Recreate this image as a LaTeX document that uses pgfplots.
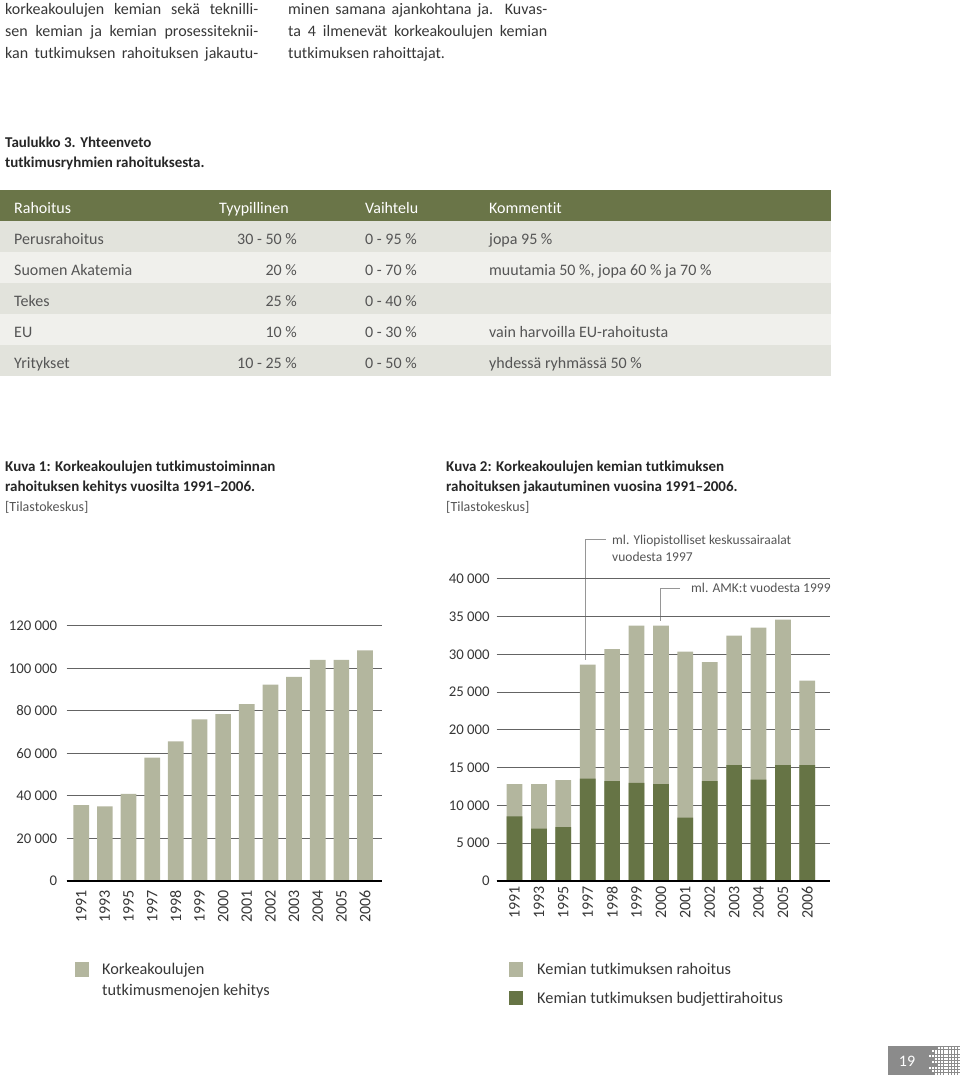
\documentclass[border=0pt]{standalone}
\usepackage{fontspec}
\setmainfont{Carlito}[Ligatures=NoCommon]
\usepackage{pgfplots}
\pgfplotsset{compat=1.18}
\definecolor{olivehead}{RGB}{106,117,72}
\definecolor{darkbar}{RGB}{102,116,69}
\definecolor{lightbar}{RGB}{179,182,158}
\definecolor{rowgrey}{RGB}{226,227,220}
\definecolor{rowlight}{RGB}{240,240,236}
\definecolor{bodytext}{RGB}{55,55,55}
\definecolor{tabtext}{RGB}{85,85,85}
\definecolor{gridgrey}{RGB}{100,100,100}
\definecolor{leader}{RGB}{150,150,150}
\definecolor{pagegrey}{RGB}{139,139,139}
\newcommand{\fs}[1]{\fontsize{#1}{#1}\selectfont}

\pgfplotstableread{
x year total
0 1991 35700
1 1993 35100
2 1995 40900
3 1997 58000
4 1998 65600
5 1999 76000
6 2000 78500
7 2001 83200
8 2002 92300
9 2003 96000
10 2004 103900
11 2005 103900
12 2006 108400
}\tableone

\pgfplotstableread{
x year total budget
0 1991 12830 8560
1 1993 12830 6920
2 1995 13360 7140
3 1997 28620 13540
4 1998 30690 13230
5 1999 33780 12970
6 2000 33780 12830
7 2001 30340 8380
8 2002 28970 13230
9 2003 32460 15350
10 2004 33520 13410
11 2005 34580 15350
12 2006 26500 15350
}\tabletwo

\begin{document}
\begin{tikzpicture}
\begin{scope}[x=1pt,y=1pt]
\path[use as bounding box] (0,0) rectangle (960,-1079);

% ---- body text
\begin{scope}[every node/.style={anchor=base west, inner sep=0pt, font=\fs{16}, text=bodytext}]
\node at (5,-14.5) {\makebox[253pt][s]{korkeakoulujen kemian sekä teknilli-}};
\node at (5,-36.5) {\makebox[253pt][s]{sen kemian ja kemian prosessiteknii-}};
\node at (5,-58.5) {\makebox[253pt][s]{kan tutkimuksen rahoituksen jakautu-}};
\node at (288,-14.5) {\makebox[259pt][s]{minen samana ajankohtana ja. Kuvas-}};
\node at (288,-36.5) {\makebox[259pt][s]{ta 4 ilmenevät korkeakoulujen kemian}};
\node at (288,-58.5) {tutkimuksen rahoittajat.};
\end{scope}

\begin{scope}[every node/.style={anchor=base west, inner sep=0pt, font=\fs{15}\bfseries, text=black!85}]
\node at (5,-147.5) {Taulukko 3. Yhteenveto};
\node at (5,-167.5) {tutkimusryhmien rahoituksesta.};
\end{scope}

% ---- table
\fill[olivehead] (0,-190) rectangle (831,-221);
\fill[rowgrey] (0,-221) rectangle (831,-252);
\fill[rowlight] (0,-252) rectangle (831,-283);
\fill[rowgrey] (0,-283) rectangle (831,-314);
\fill[rowlight] (0,-314) rectangle (831,-345);
\fill[rowgrey] (0,-345) rectangle (831,-376);
\begin{scope}[every node/.style={anchor=base west, inner sep=0pt, font=\fs{16}, text=white}]
\node at (14,-213) {Rahoitus};
\node at (219,-213) {Tyypillinen};
\node at (365,-213) {Vaihtelu};
\node at (489,-213) {Kommentit};
\end{scope}
\begin{scope}[every node/.style={anchor=base west, inner sep=0pt, font=\fs{16}, text=tabtext}]
\node at (14,-244.5) {Perusrahoitus};
\node at (14,-275.5) {Suomen Akatemia};
\node at (14,-306.5) {Tekes};
\node at (14,-337.5) {EU};
\node at (14,-368.5) {Yritykset};
\node[anchor=base east] at (297,-244.5) {30 - 50 \%};
\node[anchor=base east] at (297,-275.5) {20 \%};
\node[anchor=base east] at (297,-306.5) {25 \%};
\node[anchor=base east] at (297,-337.5) {10 \%};
\node[anchor=base east] at (297,-368.5) {10 - 25 \%};
\node at (365,-244.5) {0 - 95 \%};
\node at (365,-275.5) {0 - 70 \%};
\node at (365,-306.5) {0 - 40 \%};
\node at (365,-337.5) {0 - 30 \%};
\node at (365,-368.5) {0 - 50 \%};
\node at (489,-244.5) {jopa 95 \%};
\node at (489,-275.5) {muutamia 50 \%, jopa 60 \% ja 70 \%};
\node at (489,-337.5) {vain harvoilla EU-rahoitusta};
\node at (489,-368.5) {yhdessä ryhmässä 50 \%};
\end{scope}

% ---- figure captions
\begin{scope}[every node/.style={anchor=base west, inner sep=0pt, font=\fs{15}\bfseries, text=black!85}]
\node at (5,-471) {Kuva 1: Korkeakoulujen tutkimustoiminnan};
\node at (5,-491) {rahoituksen kehitys vuosilta 1991–2006.};
\node at (446,-471) {Kuva 2: Korkeakoulujen kemian tutkimuksen};
\node at (446,-491) {rahoituksen jakautuminen vuosina 1991–2006.};
\end{scope}
\begin{scope}[every node/.style={anchor=base west, inner sep=0pt, font=\fs{14}, text=tabtext}]
\node at (5,-511) {[Tilastokeskus]};
\node at (446,-511) {[Tilastokeskus]};
\end{scope}

% ---- annotations chart 2
\draw[leader, line width=0.8pt] (605.7,-539) -- (585.7,-539) -- (585.7,-660);
\draw[leader, line width=0.8pt] (680,-588.7) -- (660,-588.7) -- (660,-620.7);
\begin{scope}[every node/.style={anchor=base west, inner sep=0pt, font=\fs{13.5}, text=tabtext}]
\node at (612,-544) {ml. Yliopistolliset keskussairaalat};
\node at (612,-561) {vuodesta 1997};
\node at (691,-592.5) {ml. AMK:t vuodesta 1999};
\end{scope}

% ---- legends
\fill[lightbar] (75,-962) rectangle (89,-977);
\fill[lightbar] (509,-962) rectangle (523,-977);
\fill[darkbar] (509,-991) rectangle (523,-1005);
\begin{scope}[every node/.style={anchor=base west, inner sep=0pt, font=\fs{16.3}, text=bodytext}]
\node at (102,-974.5) {Korkeakoulujen};
\node at (102,-995.5) {tutkimusmenojen kehitys};
\node at (537,-974.5) {Kemian tutkimuksen rahoitus};
\node at (537,-1003.5) {Kemian tutkimuksen budjettirahoitus};
\end{scope}

% ---- page number
\fill[pagegrey] (888,-1046) rectangle (960,-1075.3);
\node[anchor=center, inner sep=0pt, font=\fs{16}, text=white] at (907,-1061) {19};
\foreach \j/\s in {0/3,1/1,2/2,3/0,4/2,5/1,6/3,7/0,8/1,9/2} {
  \foreach \i in {\s,...,10} {
    \fill[white] ({929+\i*2.9},{-1046.6-\j*2.9}) rectangle ++(2.0,-2.0);
  }
}
\end{scope}

% ---- chart 1
\begin{axis}[
  at={(66.7pt,-881pt)}, anchor=south west,
  scale only axis, width=315.6pt, height=255.3pt,
  xmin=-0.613, xmax=12.73, ymin=0, ymax=120000,
  scaled y ticks=false,
  axis line style={draw=none}, tick style={draw=none},
  major tick length=0pt,
  ymajorgrids, grid style={line width=1.1pt, gridgrey},
  ytick={0,20000,40000,60000,80000,100000,120000},
  yticklabels={0,20 000,40 000,60 000,80 000,100 000,120 000},
  xtick={0,...,12},
  xticklabels={1991,1993,1995,1997,1998,1999,2000,2001,2002,2003,2004,2005,2006},
  xticklabel style={rotate=90, anchor=east, font=\fs{16}, text=bodytext},
  yticklabel style={font=\fs{14.8}, text=bodytext},
  xticklabel shift=6pt, yticklabel shift=6pt,
  clip=false,
]
\addplot[ybar, bar width=15.7pt, bar shift=0pt, fill=lightbar, draw=none] table[x=x, y=total] {\tableone};
\draw[line width=2.3pt, black] (axis cs:-0.613,0) -- (axis cs:12.73,0);
\end{axis}

% ---- chart 2
\begin{axis}[
  at={(496.7pt,-881pt)}, anchor=south west,
  scale only axis, width=333.3pt, height=302.3pt,
  xmin=-0.73, xmax=12.93, ymin=0, ymax=40000,
  scaled y ticks=false,
  axis line style={draw=none}, tick style={draw=none},
  major tick length=0pt,
  ymajorgrids, grid style={line width=1.1pt, gridgrey},
  ytick={0,5000,10000,15000,20000,25000,30000,35000,40000},
  yticklabels={0,5 000,10 000,15 000,20 000,25 000,30 000,35 000,40 000},
  xtick={0,...,12},
  xticklabels={1991,1993,1995,1997,1998,1999,2000,2001,2002,2003,2004,2005,2006},
  xticklabel style={rotate=90, anchor=east, font=\fs{16}, text=bodytext},
  yticklabel style={font=\fs{14.8}, text=bodytext},
  xticklabel shift=2pt, yticklabel shift=3.5pt,
  clip=false,
]
\addplot[ybar, bar width=15.7pt, bar shift=0pt, fill=lightbar, draw=none] table[x=x, y=total] {\tabletwo};
\addplot[ybar, bar width=15.7pt, bar shift=0pt, fill=darkbar, draw=none] table[x=x, y=budget] {\tabletwo};
\draw[line width=1.8pt, black] (axis cs:-0.73,0) -- (axis cs:12.93,0);
\end{axis}
\end{tikzpicture}
\end{document}
